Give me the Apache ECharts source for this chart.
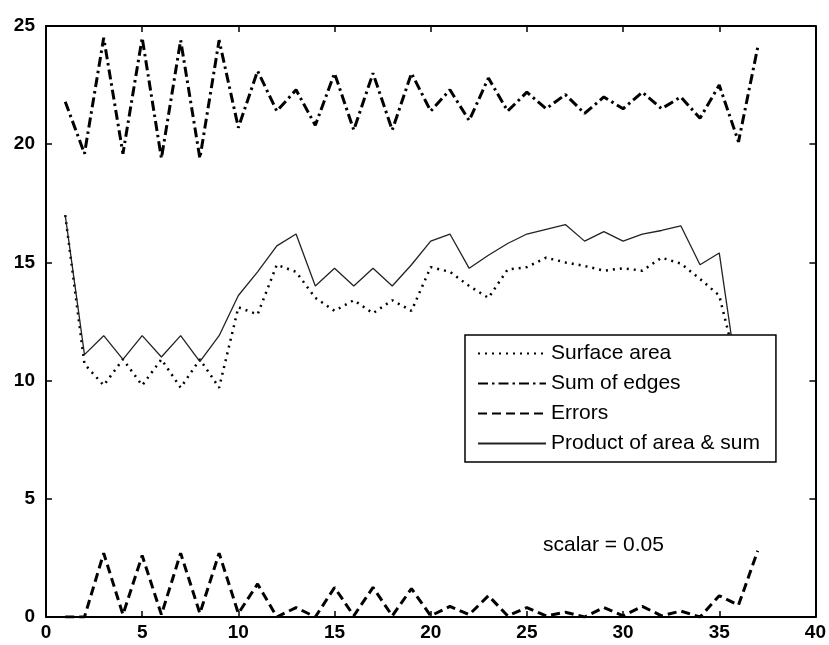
<!DOCTYPE html>
<html>
<head>
<meta charset="utf-8">
<title>scalar = 0.05</title>
<script src="https://cdn.jsdelivr.net/npm/echarts@6/dist/echarts.min.js"></script>
<style>
  html, body { margin: 0; padding: 0; background: #fff; }
  #chart { width: 829px; height: 645px; }
</style>
</head>
<body>
<div id="chart"></div>
<script>
// x positions (sample index)
const xs = [1, 2, 3, 4, 5, 6, 7, 8, 9, 10, 11, 12, 13, 14, 15, 16, 17, 18, 19, 20,
  21, 22, 23, 24, 25, 26, 27, 28, 29, 30, 31, 32, 33, 34, 35, 36, 37];

const surfaceArea = [17.0, 10.7, 9.8, 10.9, 9.8, 10.9, 9.7, 10.9, 9.7, 13.1,
  12.8, 14.9, 14.6, 13.5, 12.95, 13.4, 12.85, 13.4, 12.95, 14.8,
  14.6, 14.0, 13.5, 14.7, 14.8, 15.2, 15.0, 14.85, 14.65, 14.75,
  14.65, 15.2, 14.95, 14.3, 13.6, 10.3];

const sumOfEdges = [21.8, 19.6, 24.5, 19.6, 24.5, 19.4, 24.4, 19.4, 24.4, 20.7,
  23.1, 21.4, 22.3, 20.8, 23.0, 20.6, 23.0, 20.6, 23.0, 21.4,
  22.3, 21.0, 22.8, 21.4, 22.2, 21.5, 22.1, 21.3, 22.0, 21.5,
  22.2, 21.5, 22.0, 21.1, 22.5, 20.1, 24.1];

const errors = [0, 0, 2.7, 0.1, 2.6, 0.1, 2.7, 0.15, 2.7, 0.15,
  1.4, 0, 0.4, 0, 1.25, 0.05, 1.25, 0.05, 1.2, 0.05,
  0.45, 0.1, 0.9, 0.05, 0.4, 0.05, 0.2, 0, 0.4, 0.05,
  0.45, 0.05, 0.25, 0, 0.9, 0.5, 2.8];

const productAreaSum = [17.0, 11.1, 11.9, 10.9, 11.9, 11.0, 11.9, 10.8, 11.9, 13.6,
  14.6, 15.7, 16.2, 14.0, 14.75, 14.0, 14.75, 14.0, 14.9, 15.9,
  16.2, 14.75, 15.3, 15.8, 16.2, 16.4, 16.6, 15.9, 16.3, 15.9,
  16.2, 16.35, 16.55, 14.9, 15.4, 9.8];

const xTicks = { min: 0, max: 40, interval: 5 };
const yTicks = { min: 0, max: 25, interval: 5 };

const seriesNames = ['Surface area', 'Sum of edges', 'Errors', 'Product of area & sum'];
const noteText = 'scalar = 0.05';

const FONT = '"Liberation Sans", Arial, sans-serif';

function pairs(vals) {
  return vals.map((v, i) => [xs[i], v]);
}

function axisBase(extra) {
  return Object.assign({
    type: 'value',
    axisLine: { show: true, onZero: false, lineStyle: { color: '#000', width: 2 } },
    axisTick: { show: true, inside: true, length: 6, lineStyle: { color: '#000', width: 1.5 } },
    splitLine: { show: false },
    axisLabel: { color: '#000', fontSize: 19, fontFamily: FONT, fontWeight: 'bold' }
  }, extra);
}

const chart = echarts.init(document.getElementById('chart'));

const options = {
  animation: false,
  backgroundColor: '#fff',
  grid: { left: 46, right: 13, top: 26, bottom: 28, containLabel: false },
  xAxis: [
    axisBase({ position: 'bottom', min: xTicks.min, max: xTicks.max, interval: xTicks.interval,
      axisLabel: { color: '#000', fontSize: 19, fontFamily: FONT, fontWeight: 'bold', margin: 6 } }),
    axisBase({ position: 'top', min: xTicks.min, max: xTicks.max, interval: xTicks.interval,
      axisLabel: { show: false } })
  ],
  yAxis: [
    axisBase({ position: 'left', min: yTicks.min, max: yTicks.max, interval: yTicks.interval,
      axisLabel: { color: '#000', fontSize: 19, fontFamily: FONT, fontWeight: 'bold', margin: 11 } }),
    axisBase({ position: 'right', min: yTicks.min, max: yTicks.max, interval: yTicks.interval,
      axisLabel: { show: false } })
  ],
  legend: {
    data: seriesNames,
    orient: 'vertical',
    left: 465,
    top: 335,
    padding: [8, 16, 8, 12],
    itemGap: 9,
    itemWidth: 68,
    itemHeight: 14,
    backgroundColor: '#fff',
    borderColor: '#000',
    borderWidth: 1.5,
    // hide the little circle echarts puts in the middle of line icons
    itemStyle: { color: 'transparent', borderColor: 'transparent', borderWidth: 0, opacity: 0 },
    textStyle: { color: '#000', fontSize: 21, fontFamily: FONT },
    selectedMode: false
  },
  graphic: [{
    type: 'text',
    left: 543,
    top: 535,
    style: { text: noteText, fill: '#000', fontSize: 21, fontFamily: FONT }
  }],
  series: [
    {
      name: seriesNames[0],
      type: 'line',
      data: pairs(surfaceArea),
      symbol: 'none',
      color: '#000',
      lineStyle: { color: '#000', width: 2.5, type: [2, 5] }
    },
    {
      name: seriesNames[1],
      type: 'line',
      data: pairs(sumOfEdges),
      symbol: 'none',
      color: '#000',
      lineStyle: { color: '#000', width: 3, type: [10, 4, 2.5, 4] }
    },
    {
      name: seriesNames[2],
      type: 'line',
      data: pairs(errors),
      symbol: 'none',
      color: '#000',
      lineStyle: { color: '#000', width: 3, type: [9, 5] }
    },
    {
      name: seriesNames[3],
      type: 'line',
      data: pairs(productAreaSum),
      symbol: 'none',
      color: '#000',
      lineStyle: { color: '#222', width: 1.3, type: 'solid' }
    }
  ]
};

chart.setOption(options);
</script>
</body>
</html>
